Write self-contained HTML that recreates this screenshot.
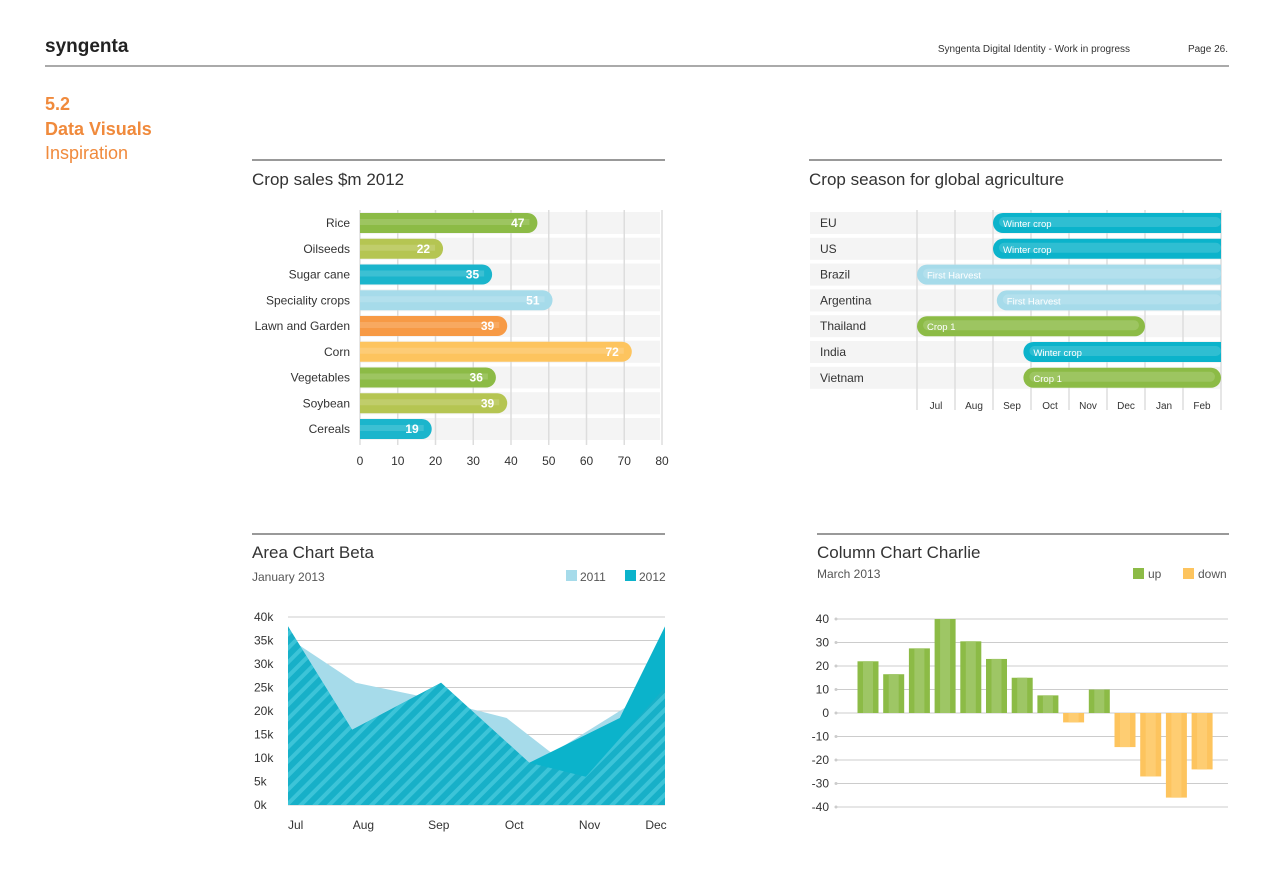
<!DOCTYPE html>
<html><head><meta charset="utf-8"><style>
body{margin:0;background:#fff;font-family:"Liberation Sans",sans-serif;}
svg{display:block}
text{font-family:"Liberation Sans",sans-serif}
</style></head><body>
<svg id="s" width="1277" height="890" xmlns="http://www.w3.org/2000/svg">
<defs>
<pattern id="hatch" width="10" height="10" patternUnits="userSpaceOnUse" patternTransform="rotate(-45)">
<rect width="10" height="10" fill="#17b0c8"/><rect width="10" height="4" fill="#3cc4d8"/>
</pattern>
</defs>
<g>
<text x="45" y="52" font-size="19" font-weight="bold" fill="#222">syngenta</text>
<text x="1130" y="52" font-size="10" fill="#333" text-anchor="end">Syngenta Digital Identity - Work in progress</text>
<text x="1228" y="52" font-size="10" fill="#333" text-anchor="end">Page 26.</text>
<line x1="45" y1="66" x2="1229" y2="66" stroke="#555" stroke-width="1"/>
<text x="45" y="110" font-size="18" font-weight="bold" fill="#f08a3c">5.2</text>
<text x="45" y="135" font-size="18" font-weight="bold" fill="#f08a3c">Data Visuals</text>
<text x="45" y="159" font-size="18" fill="#f08a3c">Inspiration</text>
</g>
<line x1="252" y1="160" x2="665" y2="160" stroke="#333"/>
<text x="252" y="185" font-size="17" fill="#333">Crop sales $m 2012</text>
<line x1="809" y1="160" x2="1222" y2="160" stroke="#333"/>
<text x="809" y="185" font-size="17" fill="#333">Crop season for global agriculture</text>
<line x1="252" y1="534" x2="665" y2="534" stroke="#333"/>
<text x="252" y="558" font-size="17" fill="#333">Area Chart Beta</text>
<text x="252" y="581" font-size="12" fill="#555">January 2013</text>
<line x1="817" y1="534" x2="1229" y2="534" stroke="#333"/>
<text x="817" y="558" font-size="17" fill="#333">Column Chart Charlie</text>
<text x="817" y="578" font-size="12" fill="#555">March 2013</text>
<g id="bar"></g><g id="gantt"></g><g id="area"></g><g id="col"></g>
</svg>
<script>
const NS="http://www.w3.org/2000/svg";
function mk(p,t,a,txt){const e=document.createElementNS(NS,t);for(const k in a)e.setAttribute(k,a[k]);if(txt!==undefined)e.textContent=txt;p.appendChild(e);return e;}

// ---- Bar chart data
const barCats=["Rice","Oilseeds","Sugar cane","Speciality crops","Lawn and Garden","Corn","Vegetables","Soybean","Cereals"];
const barVals=[47,22,35,51,39,72,36,39,19];
const barTicks=[0,10,20,30,40,50,60,70,80];
const barColors=["#8cbb46","#b5c552","#1bb5cc","#a6dbea","#f79a45","#fdc45e","#8cbb46","#b5c552","#1bb5cc"];

// ---- Gantt data
const ganttRows=["EU","US","Brazil","Argentina","Thailand","India","Vietnam"];
const ganttStart=[2,2,0,2.1,0,2.8,2.8];
const ganttEnd=[8,8,8,8,6,8,8];
const ganttLabels=["Winter crop","Winter crop","First Harvest","First Harvest","Crop 1","Winter crop","Crop 1"];
const ganttTypes=["teal","teal","light","light","green","teal","green"];
const months=["Jul","Aug","Sep","Oct","Nov","Dec","Jan","Feb"];

// ---- Area data (x in months from Jul)
const areaMonths=["Jul","Aug","Sep","Oct","Nov","Dec"];
const area2011X=[0,0.15,0.9,1.8,2.9,3.5,5];
const area2011Y=[38,34,26,23,18.5,11,26];
const area2012X=[0,0.85,2.03,3.2,4.4,5];
const area2012Y=[38,16,26,9,18.5,38];
const hatchX=[0,0.85,2.03,3.2,3.95,5];
const hatchY=[38,16,26,9,6,25];
const areaTicks=[0,5,10,15,20,25,30,35,40];

// ---- Column data
const colVals=[22,16.5,27.5,40,30.5,23,15,7.5,-4,10,-14.5,-27,-36,-24];
const colTicks=[40,30,20,10,0,-10,-20,-30,-40];

// Bar chart
(function(){
const g=document.getElementById('bar');
const x=v=>360+v*3.775, y=i=>223+i*25.75;
barCats.forEach((c,i)=>{const r=mk(g,'rect',{x:360,y:y(i)-11,width:300,height:22,fill:'#f4f4f4'});
});
barTicks.forEach(t=>{const l=mk(g,'line',{x1:x(t),x2:x(t),y1:210,y2:445,stroke:'#ddd','stroke-width':1.5});

const tx=mk(g,'text',{x:x(t),y:465,'font-size':12,fill:'#333','text-anchor':'middle'},t);
});
barCats.forEach((c,i)=>{const w=x(barVals[i])-360;
const b=mk(g,'path',{d:`M360 ${y(i)-10}h${w-10}a10 10 0 0 1 0 20h${-(w-10)}z`,fill:barColors[i]});

mk(g,'rect',{x:360,y:y(i)-4,width:w-8,height:6,fill:'#fff',opacity:0.15});
const v=mk(g,'text',{x:x(barVals[i])-13,y:y(i)+4,'font-size':12,'font-weight':'bold',fill:'#fff','text-anchor':'end'},barVals[i]);

const lb=mk(g,'text',{x:350,y:y(i)+4,'font-size':12,fill:'#333','text-anchor':'end'},c);
});
})();

// Gantt
(function(){
const g=document.getElementById('gantt');
const x=m=>917+m*38, y=i=>223+i*25.8;
const col={teal:'#0bb3cb',light:'#a6dbea',green:'#8cbb46'};
ganttRows.forEach((r,i)=>{const b=mk(g,'rect',{x:810,y:y(i)-11,width:411,height:22,fill:'#f4f4f4'});

const t=mk(g,'text',{x:820,y:y(i)+4,'font-size':12,fill:'#333'},r);
});
for(let m=0;m<=8;m++){const l=mk(g,'line',{x1:x(m),x2:x(m),y1:210,y2:410,stroke:'#ddd','stroke-width':1.5});
}
months.forEach((mo,m)=>{const t=mk(g,'text',{x:x(m+0.5),y:409,'font-size':10,fill:'#333','text-anchor':'middle'},mo);
});
ganttRows.forEach((r,i)=>{const x0=x(ganttStart[i]),x1=x(ganttEnd[i]);const round=ganttEnd[i]<8||ganttTypes[i]==='green';
const d=round?`M${x0+10} ${y(i)-10}H${x1-10}a10 10 0 0 1 0 20H${x0+10}a10 10 0 0 1 0-20z`:`M${x0+10} ${y(i)-10}H${x1}v20H${x0+10}a10 10 0 0 1 0-20z`;
const b=mk(g,'path',{d:d,fill:col[ganttTypes[i]]});

mk(g,'rect',{x:x0+6,y:y(i)-6,width:x1-x0-(round?12:6),height:10,fill:'#fff',opacity:0.15,rx:5});
const t=mk(g,'text',{x:x0+10,y:y(i)+4,'font-size':9.5,fill:'#fff'},ganttLabels[i]);
});
})();

// Area chart
(function(){
const g=document.getElementById('area');
const x=m=>288+m*75.4, y=v=>805-v*4.7;
[['#a6dbea','2011',566],['#0bb3cb','2012',625]].forEach(([c,l,px])=>{const r=mk(g,'rect',{x:px,y:570,width:11,height:11,fill:c});

const t=mk(g,'text',{x:px+14,y:581,'font-size':12,fill:'#555'},l);});
areaTicks.forEach(t=>{const l=mk(g,'line',{x1:288,x2:665,y1:y(t),y2:y(t),stroke:'#ccc'});

const tx=mk(g,'text',{x:254,y:y(t)+4,'font-size':12,fill:'#333'},t+'k');
});
const poly=(xs,ys)=>`M${x(xs[0])} ${y(0)}`+xs.map((v,i)=>`L${x(v)} ${y(ys[i])}`).join('')+`L${x(xs[xs.length-1])} ${y(0)}Z`;
let p=mk(g,'path',{d:poly(area2011X,area2011Y),fill:'#a6dbea'});
p=mk(g,'path',{d:poly(area2012X,area2012Y),fill:'#0bb3cb'});
p=mk(g,'path',{d:poly(hatchX,hatchY),fill:'url(#hatch)'});
areaMonths.forEach((m,i)=>{const t=mk(g,'text',{x:i===0?288:(i===5?656:x(i)),y:829,'font-size':12,fill:'#333','text-anchor':i===0?'start':'middle'},m);
});
})();

// Column chart
(function(){
const g=document.getElementById('col');
const y=v=>713-v*2.35, x=i=>868+i*25.7;
[['#8cbb46','up',1133],['#fdc45e','down',1183]].forEach(([c,l,px])=>{const r=mk(g,'rect',{x:px,y:568,width:11,height:11,fill:c});

const t=mk(g,'text',{x:px+15,y:578,'font-size':12,fill:'#555'},l);});
colTicks.forEach(t=>{const l=mk(g,'line',{x1:836,x2:1228,y1:y(t),y2:y(t),stroke:'#ccc'});

mk(g,'circle',{cx:836,cy:y(t),r:1.5,fill:'#ccc'});
const tx=mk(g,'text',{x:829,y:y(t)+4,'font-size':12,fill:'#333','text-anchor':'end'},t);
});
colVals.forEach((v,i)=>{const up=v>=0;const top=up?y(v):y(0);const h=Math.abs(y(v)-y(0));
const r=mk(g,'rect',{x:x(i)-10.5,y:top,width:21,height:h,fill:up?'#8cbb46':'#fdc45e'});

mk(g,'rect',{x:x(i)-5,y:top,width:10,height:h,fill:up?'#9ec665':'#fecd72'});});
})();
</script>
</body></html>
